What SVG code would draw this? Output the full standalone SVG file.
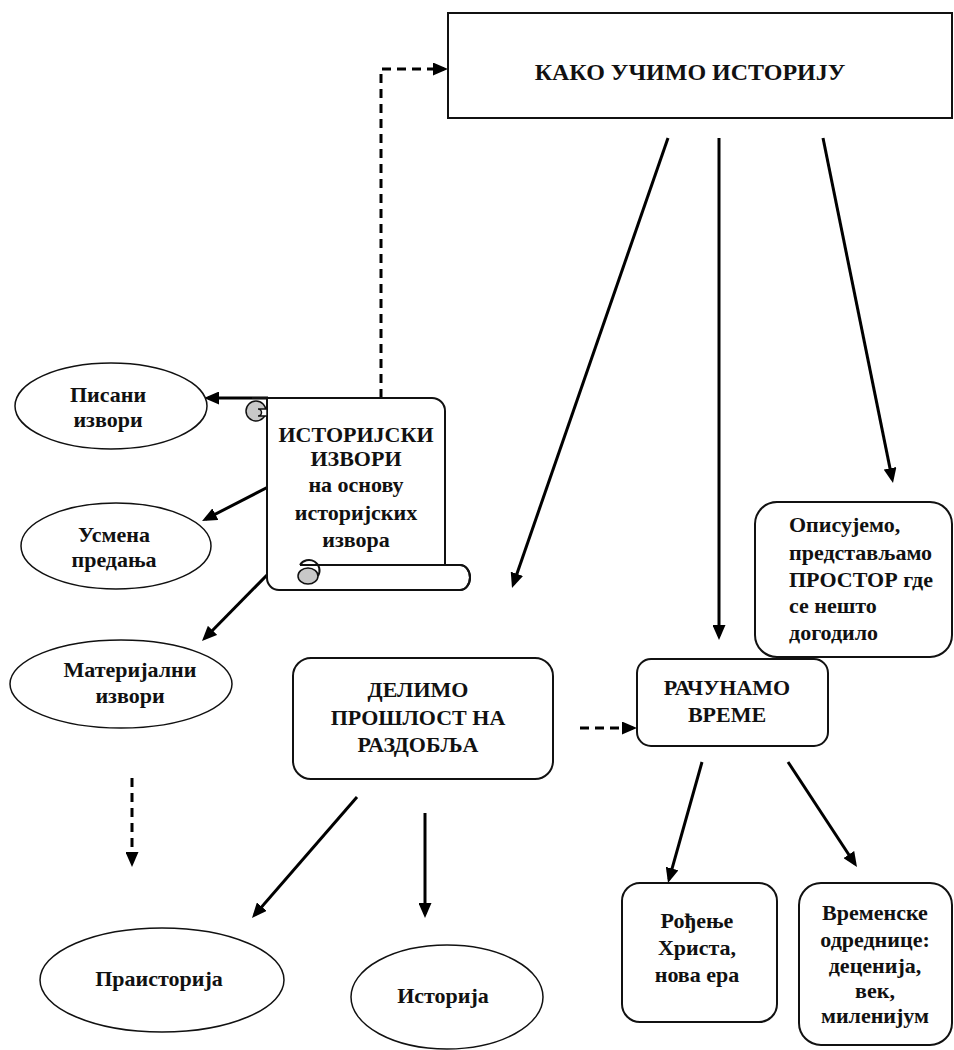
<svg xmlns="http://www.w3.org/2000/svg" width="954" height="1050" viewBox="0 0 954 1050">
<defs>
<style>
.box{fill:#fff;stroke:#111;stroke-width:2;}
.ell{fill:#fff;stroke:#111;stroke-width:1.5;}
.ar{fill:none;stroke:#000;stroke-width:3;marker-end:url(#ah);}
.da{fill:none;stroke:#000;stroke-width:3;stroke-dasharray:9 6;marker-end:url(#ah);}
</style>
<marker id="ah" viewBox="0 0 15 13" refX="11" refY="6.5" markerWidth="15" markerHeight="13" markerUnits="userSpaceOnUse" orient="auto">
<path d="M0,0 L15,6.5 L0,13 z" fill="#000"/>
</marker>
</defs>
<rect width="954" height="1050" fill="#fff"/>

<g id="connectors">
<path class="da" d="M381 398 V69 H444"/>
<path class="ar" d="M268 398 H208"/>
<path class="ar" d="M270 486 L205.6 519.2"/>
<path class="ar" d="M270 572 L204.8 638.2"/>
<path class="ar" d="M668 138 L513.3 584.2"/>
<path class="ar" d="M719 138 V636"/>
<path class="ar" d="M823 138 L892.2 479.1"/>
<path class="da" d="M580 728 H633"/>
<path class="ar" d="M702 762 L669.1 879.1"/>
<path class="ar" d="M788 762 L854.8 863.7"/>
<path class="da" d="M132 778 V863"/>
<path class="ar" d="M357 797 L254.6 915"/>
<path class="ar" d="M425 813 V914"/>
</g>

<g id="kako">
<rect class="box" x="448" y="13" width="504" height="105"/>
<text x="690" y="80" text-anchor="middle" font-family="Liberation Serif" font-weight="bold" font-size="24" fill="#111">КАКО УЧИМО ИСТОРИЈУ</text>
</g>

<g id="izvori">
<path fill="#fff" stroke="#111" stroke-width="2" d="M267 398 V578 A12 12 0 0 0 279 590 H460 A10 12.5 0 0 0 460 565 H445 V411 A13 13 0 0 0 432 398 Z"/>
<path fill="none" stroke="#111" stroke-width="2" d="M460 565 A10 12.5 0 0 1 460 590"/>
<path fill="none" stroke="#111" stroke-width="2" d="M300 565 H460"/>
<ellipse cx="308" cy="576" rx="10" ry="8" fill="#c8c8c8" stroke="#111" stroke-width="1.5"/>
<path fill="none" stroke="#111" stroke-width="2" d="M318 576 A10 10 0 0 0 300 565"/>
<circle cx="256" cy="411" r="10" fill="#c8c8c8" stroke="#111" stroke-width="1.5"/>
<path fill="#fff" stroke="#111" stroke-width="1.5" d="M258 409 A3.5 3.5 0 0 1 258 416 H267 V409 Z"/>
<path fill="none" stroke="#111" stroke-width="2" d="M252 398 H267"/>
<text x="356" y="442" text-anchor="middle" font-family="Liberation Serif" font-weight="bold" font-size="22" fill="#111">ИСТОРИЈСКИ</text>
<text x="356" y="466" text-anchor="middle" font-family="Liberation Serif" font-weight="bold" font-size="22" fill="#111">ИЗВОРИ</text>
<text x="356" y="492" text-anchor="middle" font-family="Liberation Serif" font-weight="bold" font-size="22" fill="#111">на основу</text>
<text x="356" y="520" text-anchor="middle" font-family="Liberation Serif" font-weight="bold" font-size="22" fill="#111">историјских</text>
<text x="356" y="547" text-anchor="middle" font-family="Liberation Serif" font-weight="bold" font-size="22" fill="#111">извора</text>
</g>

<g id="pisani">
<ellipse class="ell" cx="111" cy="406" rx="96" ry="43"/>
<text x="108" y="402" text-anchor="middle" font-family="Liberation Serif" font-weight="bold" font-size="22" fill="#111">Писани</text>
<text x="108" y="427" text-anchor="middle" font-family="Liberation Serif" font-weight="bold" font-size="22" fill="#111">извори</text>
</g>

<g id="usmena">
<ellipse class="ell" cx="116" cy="546" rx="95" ry="43"/>
<text x="114" y="542" text-anchor="middle" font-family="Liberation Serif" font-weight="bold" font-size="22" fill="#111">Усмена</text>
<text x="114" y="567" text-anchor="middle" font-family="Liberation Serif" font-weight="bold" font-size="22" fill="#111">предања</text>
</g>

<g id="materijalni">
<ellipse class="ell" cx="121" cy="684" rx="111" ry="44"/>
<text x="130" y="677" text-anchor="middle" font-family="Liberation Serif" font-weight="bold" font-size="22" fill="#111">Материјални</text>
<text x="130" y="703" text-anchor="middle" font-family="Liberation Serif" font-weight="bold" font-size="22" fill="#111">извори</text>
</g>

<g id="delimo">
<rect class="box" x="293" y="658" width="260" height="121" rx="18"/>
<text x="418" y="697" text-anchor="middle" font-family="Liberation Serif" font-weight="bold" font-size="22" fill="#111">ДЕЛИМО</text>
<text x="418" y="725" text-anchor="middle" font-family="Liberation Serif" font-weight="bold" font-size="22" fill="#111">ПРОШЛОСТ НА</text>
<text x="418" y="752" text-anchor="middle" font-family="Liberation Serif" font-weight="bold" font-size="22" fill="#111">РАЗДОБЉА</text>
</g>

<g id="opisujemo">
<rect class="box" x="755" y="502" width="197" height="155" rx="22"/>
<text x="789" y="532" font-family="Liberation Serif" font-weight="bold" font-size="22" fill="#111">Описујемо,</text>
<text x="789" y="560" font-family="Liberation Serif" font-weight="bold" font-size="22" fill="#111">представљамо</text>
<text x="789" y="587" font-family="Liberation Serif" font-weight="bold" font-size="22" fill="#111">ПРОСТОР где</text>
<text x="789" y="613" font-family="Liberation Serif" font-weight="bold" font-size="22" fill="#111">се нешто</text>
<text x="789" y="640" font-family="Liberation Serif" font-weight="bold" font-size="22" fill="#111">догодило</text>
</g>

<g id="racunamo">
<rect class="box" x="637" y="659" width="191" height="87" rx="14"/>
<text x="727" y="695" text-anchor="middle" font-family="Liberation Serif" font-weight="bold" font-size="22" fill="#111">РАЧУНАМО</text>
<text x="727" y="722" text-anchor="middle" font-family="Liberation Serif" font-weight="bold" font-size="22" fill="#111">ВРЕМЕ</text>
</g>

<g id="rodjenje">
<rect class="box" x="622" y="883" width="155" height="139" rx="18"/>
<text x="697" y="928" text-anchor="middle" font-family="Liberation Serif" font-weight="bold" font-size="22" fill="#111">Рођење</text>
<text x="697" y="955" text-anchor="middle" font-family="Liberation Serif" font-weight="bold" font-size="22" fill="#111">Христа,</text>
<text x="697" y="982" text-anchor="middle" font-family="Liberation Serif" font-weight="bold" font-size="22" fill="#111">нова ера</text>
</g>

<g id="vremenske">
<rect class="box" x="799" y="883" width="153" height="162" rx="22"/>
<text x="875" y="920" text-anchor="middle" font-family="Liberation Serif" font-weight="bold" font-size="22" fill="#111">Временске</text>
<text x="875" y="947" text-anchor="middle" font-family="Liberation Serif" font-weight="bold" font-size="22" fill="#111">одреднице:</text>
<text x="875" y="973" text-anchor="middle" font-family="Liberation Serif" font-weight="bold" font-size="22" fill="#111">деценија,</text>
<text x="875" y="998" text-anchor="middle" font-family="Liberation Serif" font-weight="bold" font-size="22" fill="#111">век,</text>
<text x="875" y="1023" text-anchor="middle" font-family="Liberation Serif" font-weight="bold" font-size="22" fill="#111">миленијум</text>
</g>

<g id="praistorija">
<ellipse class="ell" cx="162" cy="980" rx="122" ry="52"/>
<text x="159" y="986" text-anchor="middle" font-family="Liberation Serif" font-weight="bold" font-size="22" fill="#111">Праисторија</text>
</g>

<g id="istorija">
<ellipse class="ell" cx="447" cy="997" rx="96" ry="52"/>
<text x="443" y="1003" text-anchor="middle" font-family="Liberation Serif" font-weight="bold" font-size="22" fill="#111">Историја</text>
</g>
</svg>
